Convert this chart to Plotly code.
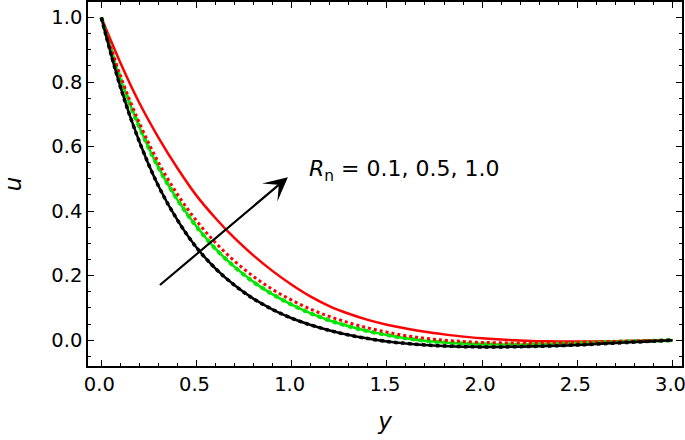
import plotly.graph_objects as go

y_vals = [0.0, 0.1, 0.2, 0.3, 0.4, 0.5, 0.6, 0.7, 0.8, 0.9, 1.0,
          1.1, 1.2, 1.3, 1.4, 1.5, 1.6, 1.7, 1.8, 1.9, 2.0,
          2.1, 2.2, 2.3, 2.4, 2.5, 2.6, 2.7, 2.8, 2.9, 3.0]

u_black = [1.0, 0.785, 0.615, 0.478, 0.372, 0.287, 0.222, 0.170, 0.128, 0.095, 0.068,
           0.047, 0.030, 0.016, 0.005, -0.004, -0.010, -0.015, -0.018, -0.020, -0.021,
           -0.021, -0.020, -0.019, -0.017, -0.015, -0.012, -0.009, -0.006, -0.003, 0.0]

u_green = [1.0, 0.81, 0.66, 0.535, 0.435, 0.352, 0.283, 0.227, 0.180, 0.142, 0.110,
           0.083, 0.061, 0.043, 0.028, 0.016, 0.006, -0.002, -0.007, -0.010, -0.012,
           -0.013, -0.013, -0.012, -0.011, -0.009, -0.007, -0.005, -0.003, -0.002, 0.0]

u_red_dot = [1.0, 0.82, 0.673, 0.551, 0.452, 0.370, 0.302, 0.245, 0.197, 0.157, 0.124,
             0.096, 0.073, 0.054, 0.038, 0.025, 0.014, 0.006, 0.0, -0.004, -0.007,
             -0.008, -0.009, -0.009, -0.008, -0.007, -0.006, -0.004, -0.003, -0.001, 0.0]

u_red = [1.0, 0.86, 0.735, 0.628, 0.533, 0.448, 0.378, 0.316, 0.262, 0.214, 0.172,
         0.135, 0.105, 0.082, 0.063, 0.048, 0.036, 0.026, 0.018, 0.011, 0.006,
         0.002, -0.001, -0.003, -0.004, -0.004, -0.004, -0.003, -0.002, -0.001, 0.0]

x_major = [0.0, 0.5, 1.0, 1.5, 2.0, 2.5, 3.0]
x_labels = ["0.0", "0.5", "1.0", "1.5", "2.0", "2.5", "3.0"]
y_major = [0.0, 0.2, 0.4, 0.6, 0.8, 1.0]
y_labels = ["0.0", "0.2", "0.4", "0.6", "0.8", "1.0"]

FONT = "DejaVu Sans, Arial, sans-serif"

fig = go.Figure()
fig.add_trace(go.Scatter(x=y_vals, y=u_red, mode="lines", line=dict(color="#ff0000", width=2.5, shape="spline"), showlegend=False))
fig.add_trace(go.Scatter(x=y_vals, y=u_green, mode="lines", line=dict(color="#00e600", width=2.5, shape="spline"), showlegend=False))
fig.add_trace(go.Scatter(x=y_vals, y=u_green, mode="lines", line=dict(color="#00e600", width=4, dash="dot", shape="spline"), showlegend=False))
fig.add_trace(go.Scatter(x=y_vals, y=u_red_dot, mode="lines", line=dict(color="#ff0000", width=3, dash="dot", shape="spline"), showlegend=False))
fig.add_trace(go.Scatter(x=y_vals, y=u_black, mode="lines", line=dict(color="#000000", width=2.5, shape="spline"), showlegend=False))
fig.add_trace(go.Scatter(x=y_vals, y=u_black, mode="lines", line=dict(color="#000000", width=3.5, dash="dot", shape="spline"), showlegend=False))

axis_common = dict(
    showline=True, linecolor="black", linewidth=1.5, mirror="ticks",
    ticks="inside", ticklen=6, tickwidth=1.2, tickcolor="black",
    showgrid=False, zeroline=False, automargin=False, ticklabeloverflow="allow",
    tickfont=dict(family=FONT, size=19.5, color="black"),
)

fig.update_xaxes(range=[-0.07, 3.05], tickvals=x_major, ticktext=x_labels, ticklabelshift=-2,
                 minor=dict(dtick=0.1, tick0=0, ticks="inside", ticklen=3, tickcolor="black", tickwidth=1),
                 title=dict(text="<i>y</i>", font=dict(family=FONT, size=23, color="black"), standoff=18),
                 **axis_common)
fig.update_yaxes(range=[-0.08, 1.048], tickvals=y_major, ticktext=y_labels,
                 minor=dict(dtick=0.05, tick0=0, ticks="inside", ticklen=3, tickcolor="black", tickwidth=1),
                 title=dict(text="<i>u</i>", font=dict(family=FONT, size=23, color="black"), standoff=24),
                 **axis_common)

fig.add_annotation(x=0.98, y=0.505, ax=0.3, ay=0.167, xref="x", yref="y", axref="x", ayref="y",
                   text="", showarrow=True, arrowhead=3, arrowsize=1.8, arrowwidth=2.2, arrowcolor="black")
fig.add_annotation(x=1.08, y=0.525, xref="x", yref="y", xanchor="left", yanchor="middle",
                   text="<i>R</i><sub>n</sub> = 0.1, 0.5, 1.0", showarrow=False,
                   font=dict(family=FONT, size=22, color="black"))

fig.update_layout(width=685, height=440, margin=dict(l=88, r=3, t=2, b=74),
                  plot_bgcolor="white", paper_bgcolor="white")

fig.write_html("out.html", config={"displayModeBar": False},
               post_script="document.body.style.margin='0';")
